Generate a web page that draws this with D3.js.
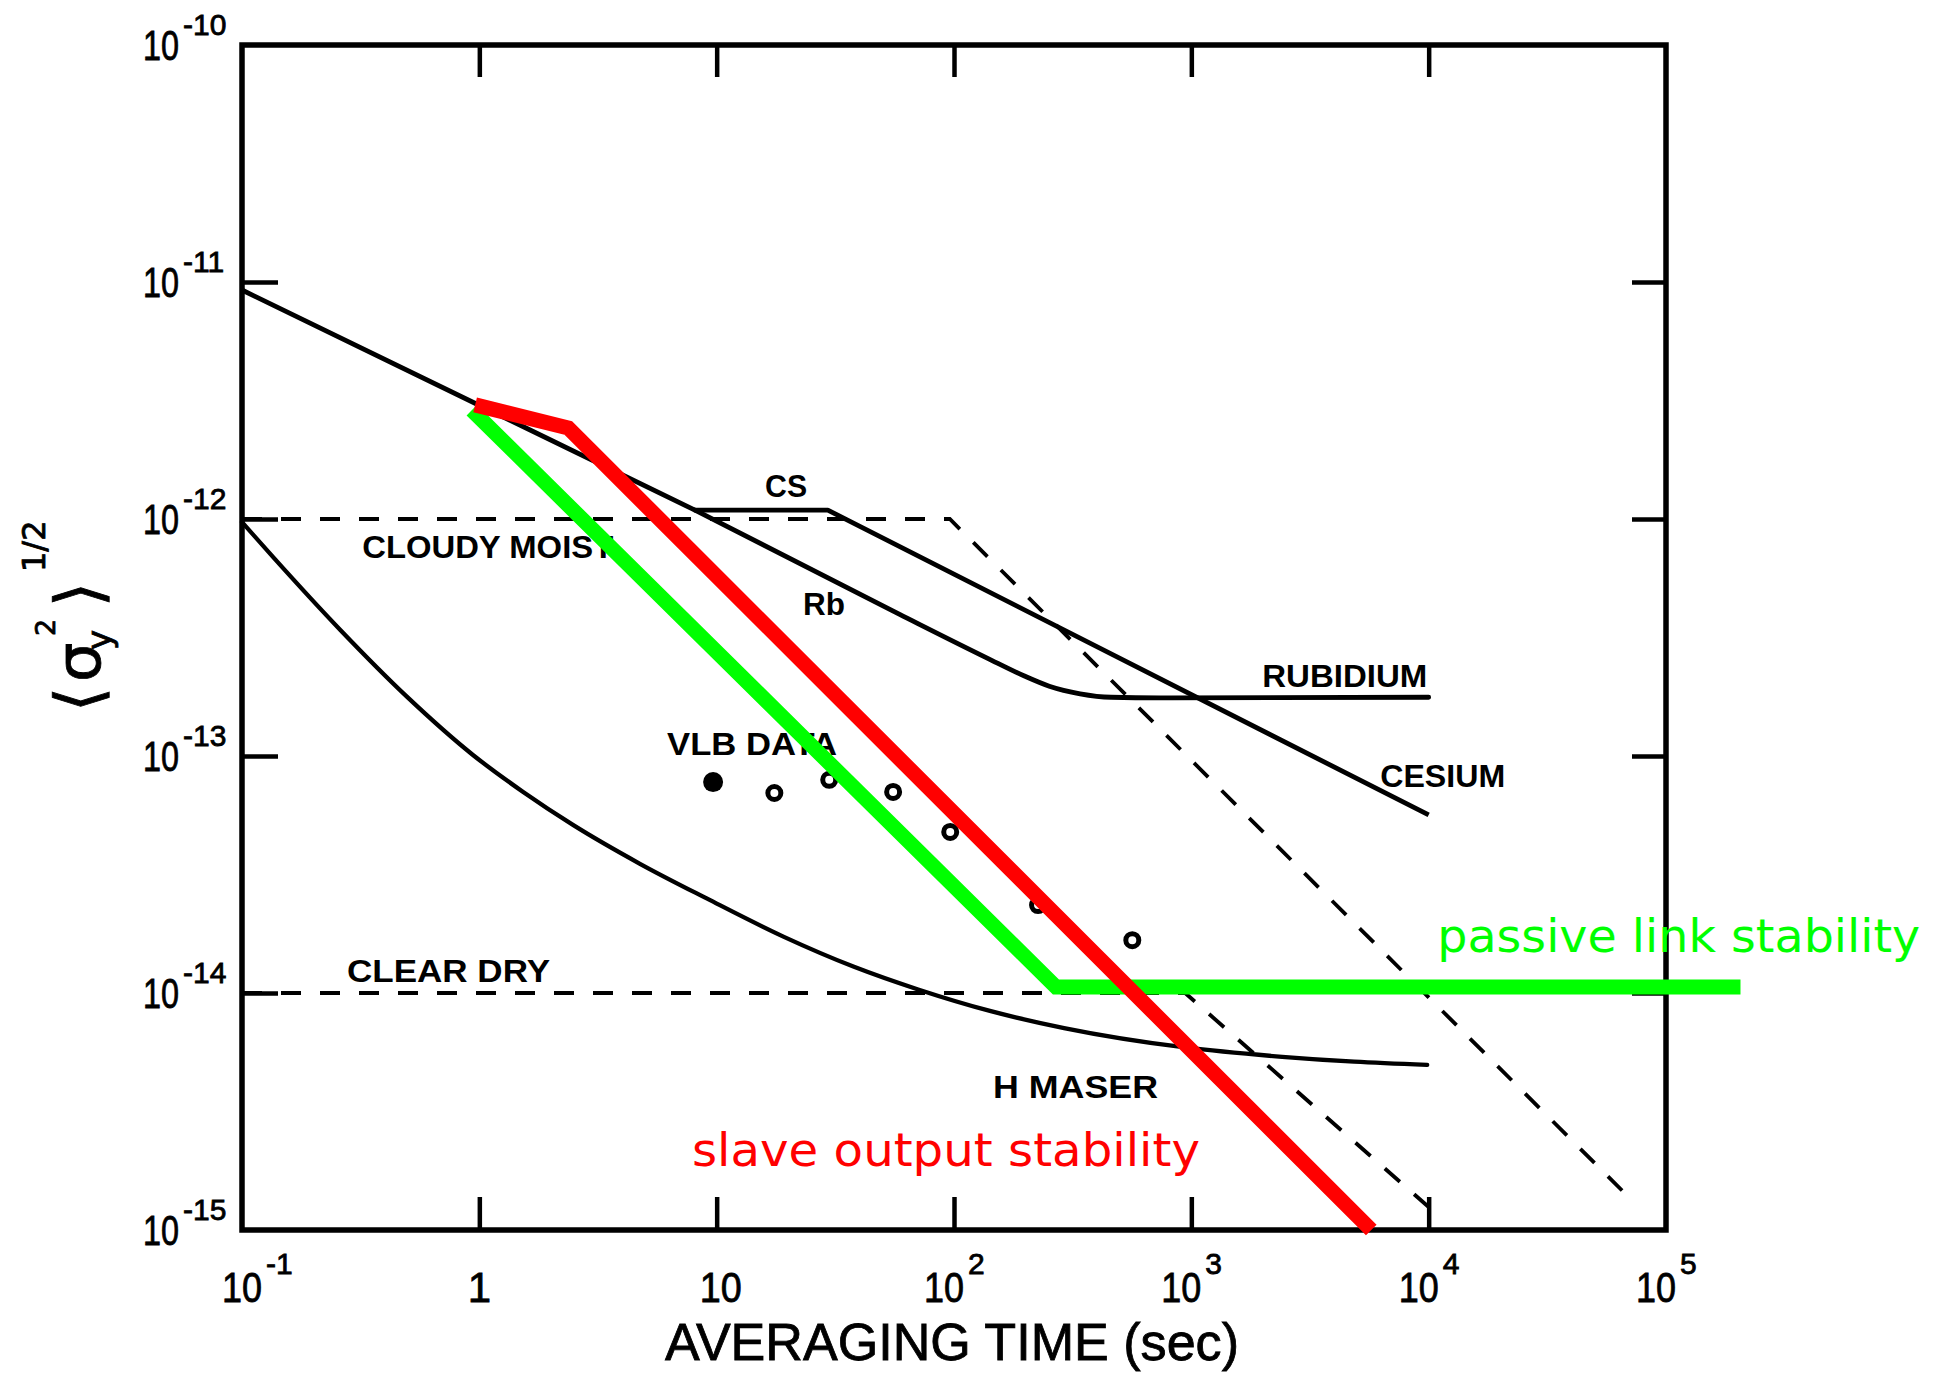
<!DOCTYPE html>
<html>
<head>
<meta charset="utf-8">
<script src="https://cdn.jsdelivr.net/npm/d3@7"></script>
<style>
  html, body { margin: 0; padding: 0; background: #fff; }
  svg { display: block; }
</style>
</head>
<body>
<svg id="chart" width="1935" height="1373"></svg>
<script>
// ---- Axis ticks ----------------------------------------------------------
const tauTicks = [1e-1, 1, 10, 1e2, 1e3, 1e4, 1e5];            // averaging time, s
const sigmaTicks = [1e-10, 1e-11, 1e-12, 1e-13, 1e-14, 1e-15];  // <sigma_y^2>^(1/2)

// ---- Series: [averaging time (s), stability] -----------------------------
// Cesium standard (shares the short-term branch with rubidium)
const cesium = [[0.1, 9.25e-12], [8.1, 1.09e-12], [29.4, 1.09e-12], [1.0e4, 5.64e-14]];
// Rubidium standard, leaving the shared branch and levelling into its floor
const rubidium = [[8.1, 1.09e-12], [59.3, 3.95e-13], [138, 2.59e-13], [197, 2.18e-13],
                  [252, 1.97e-13], [340, 1.83e-13], [459, 1.77e-13], [740, 1.76e-13], [1.0e4, 1.77e-13]];
// Hydrogen maser
const hMaser = [[0.1, 9.7e-13], [0.135, 6.92e-13], [0.259, 3.41e-13], [0.495, 1.78e-13],
                [0.94, 1.01e-13], [1.53, 7.05e-14], [2.48, 5.12e-14], [4.75, 3.51e-14],
                [9.12, 2.5e-14], [19.1, 1.73e-14], [37.9, 1.29e-14], [70.6, 1.035e-14],
                [143, 8.38e-15], [291, 7.11e-15], [942, 5.89e-15], [2415, 5.38e-15],
                [4853, 5.13e-15], [9860, 4.97e-15]];
// Atmospheric path limits
const cloudyMoist = [[0.1, 1.0e-12], [96, 1.0e-12], [7.1e4, 1.35e-15]];
const clearDry = [[0.1, 1.0e-14], [942, 1.0e-14], [1.0e4, 1.25e-15]];
// VLB measurements (first one filled, the rest open)
const vlbFilled = [[9.66, 7.76e-14]];
const vlbOpen = [[17.5, 6.98e-14], [29.8, 7.93e-14], [55.4, 7.05e-14], [96.4, 4.78e-14],
                 [226, 2.35e-14], [564, 1.67e-14]];
// Link overlays
const passiveLink = [[0.93, 2.88e-12], [269, 1.06e-14], [2.06e5, 1.06e-14]];
const slaveOutput = [[0.96, 3.03e-12], [2.37, 2.42e-12], [5730, 1.0e-15]];

// Curve labels anchored in data coordinates (left end of baseline)
const curveLabels = [
  { text: "CS", tau: 16.0, sigma: 1.24e-12 },
  { text: "CLOUDY MOIST", tau: 0.321, sigma: 6.84e-13 },
  { text: "Rb", tau: 23.1, sigma: 3.94e-13 },
  { text: "RUBIDIUM", tau: 1990, sigma: 1.95e-13 },
  { text: "CESIUM", tau: 6250, sigma: 7.4e-14 },
  { text: "VLB DATA", tau: 6.18, sigma: 1.01e-13 },
  { text: "CLEAR DRY", tau: 0.277, sigma: 1.11e-14 },
  { text: "H MASER", tau: 146, sigma: 3.6e-15 }
];
const overlayLabels = [
  { text: "passive link stability", tau: 10870, sigma: 1.49e-14, color: "#00ff00" },
  { text: "slave output stability", tau: 7.87, sigma: 1.86e-15, color: "#ff0000" }
];

// ---- Layout ---------------------------------------------------------------
const W = 1935, H = 1373;
const plot = { left: 242, right: 1666, top: 45, bottom: 1230 };
const labelWidth = { "CS": 42, "CLOUDY MOIST": 251, "Rb": 42, "RUBIDIUM": 165, "CESIUM": 125,
                     "VLB DATA": 170, "CLEAR DRY": 203, "H MASER": 165,
                     "passive link stability": 483, "slave output stability": 508 };
const sansFont = "'Liberation Sans', Arial, sans-serif";
const textFont = "'DejaVu Sans', sans-serif";

const x = d3.scaleLog().domain([1e-1, 1e5]).range([plot.left, plot.right]);
const y = d3.scaleLog().domain([1e-10, 1e-15]).range([plot.top, plot.bottom]);
const line = d3.line().x(d => x(d[0])).y(d => y(d[1]));
const smooth = d3.line().x(d => x(d[0])).y(d => y(d[1])).curve(d3.curveMonotoneX);

const svg = d3.select("#chart");
svg.append("rect").attr("width", W).attr("height", H).attr("fill", "#fff");

// ---- Frame and inward ticks -------------------------------------------------
svg.append("rect")
  .attr("x", plot.left).attr("y", plot.top)
  .attr("width", plot.right - plot.left).attr("height", plot.bottom - plot.top)
  .attr("fill", "none").attr("stroke", "#000").attr("stroke-width", 5.5);

const innerTau = tauTicks.slice(1, -1);
const innerSigma = sigmaTicks.slice(1, -1);
function tickStyle(g) {
  g.select(".domain").remove();
  g.selectAll(".tick text").remove();
  g.selectAll(".tick line").attr("stroke", "#000").attr("stroke-width", 4.5);
}
svg.append("g").attr("transform", `translate(0,${plot.bottom})`)
  .call(d3.axisBottom(x).tickValues(innerTau).tickSize(-33).tickSizeOuter(0).tickFormat(""))
  .call(tickStyle);
svg.append("g").attr("transform", `translate(0,${plot.top})`)
  .call(d3.axisTop(x).tickValues(innerTau).tickSize(-32).tickSizeOuter(0).tickFormat(""))
  .call(tickStyle);
svg.append("g").attr("transform", `translate(${plot.left},0)`)
  .call(d3.axisLeft(y).tickValues(innerSigma).tickSize(-36).tickSizeOuter(0).tickFormat(""))
  .call(tickStyle);
svg.append("g").attr("transform", `translate(${plot.right},0)`)
  .call(d3.axisRight(y).tickValues(innerSigma).tickSize(-34).tickSizeOuter(0).tickFormat(""))
  .call(tickStyle);

// ---- Tick labels (powers of ten) --------------------------------------------
const tickLabels = svg.append("g").attr("font-family", sansFont).attr("fill", "#000")
  .attr("stroke", "#000").attr("stroke-width", 0.8);
sigmaTicks.forEach(v => {
  const e = Math.round(Math.log10(v));
  const ty = y(v);
  tickLabels.append("text").attr("x", 143).attr("y", ty + 15)
    .attr("font-size", 42).attr("textLength", 36).attr("lengthAdjust", "spacingAndGlyphs")
    .text("10");
  tickLabels.append("text").attr("x", 183).attr("y", ty - 10)
    .attr("font-size", 30).text("-" + (-e));
});
tauTicks.forEach(v => {
  const e = Math.round(Math.log10(v));
  const tx = x(v);
  const base = 1302;
  if (e === 0) {
    tickLabels.append("text").attr("x", tx).attr("y", base).attr("text-anchor", "middle")
      .attr("font-size", 42).text("1");
  } else if (e === 1) {
    tickLabels.append("text").attr("x", tx - 17).attr("y", base)
      .attr("font-size", 42).attr("textLength", 42).attr("lengthAdjust", "spacingAndGlyphs")
      .text("10");
  } else {
    const x0 = tx - (e < 0 ? 20 : 30);
    tickLabels.append("text").attr("x", x0).attr("y", base)
      .attr("font-size", 42).attr("textLength", 40).attr("lengthAdjust", "spacingAndGlyphs")
      .text("10");
    tickLabels.append("text").attr("x", x0 + 44).attr("y", 1274)
      .attr("font-size", 30).text(e < 0 ? "-" + (-e) : String(e));
  }
});

// ---- Axis titles -------------------------------------------------------------
svg.append("text").attr("x", 665).attr("y", 1360)
  .attr("font-family", sansFont).attr("font-size", 52)
  .attr("stroke", "#000").attr("stroke-width", 0.8)
  .attr("textLength", 574).attr("lengthAdjust", "spacingAndGlyphs")
  .text("AVERAGING TIME (sec)");

const yTitle = svg.append("g").attr("font-family", textFont).attr("fill", "#000")
  .attr("stroke", "#000").attr("stroke-width", 0.8);
[
  { t: "\u27E8", px: 101, py: 712, size: 64 },
  { t: "\u03C3", px: 100, py: 682, size: 62 },
  { t: "y", px: 111, py: 650, size: 34 },
  { t: "2", px: 55, py: 636, size: 27 },
  { t: "\u27E9", px: 101, py: 607, size: 64 },
  { t: "1/2", px: 45, py: 572, size: 32 }
].forEach(p => {
  yTitle.append("text").attr("transform", `translate(${p.px},${p.py}) rotate(-90)`)
    .attr("font-size", p.size).text(p.t);
});

// ---- Atmospheric limits (dashed) ------------------------------------------------
[cloudyMoist, clearDry].forEach(s => {
  svg.append("path").attr("d", line(s)).attr("fill", "none")
    .attr("stroke", "#000").attr("stroke-width", 3.8).attr("stroke-dasharray", "20 19");
});

// ---- Frequency standards (solid) -------------------------------------------------
svg.append("path").attr("d", line(cesium)).attr("fill", "none")
  .attr("stroke", "#000").attr("stroke-width", 4.8).attr("stroke-linejoin", "round");
svg.append("path").attr("d", smooth(rubidium)).attr("fill", "none")
  .attr("stroke", "#000").attr("stroke-width", 4.8).attr("stroke-linecap", "round");
svg.append("path").attr("d", smooth(hMaser)).attr("fill", "none")
  .attr("stroke", "#000").attr("stroke-width", 4.3).attr("stroke-linecap", "round");

// ---- VLB data points ---------------------------------------------------------------
svg.selectAll("circle.vlb-filled").data(vlbFilled).join("circle")
  .attr("class", "vlb-filled").attr("cx", d => x(d[0])).attr("cy", d => y(d[1]))
  .attr("r", 10).attr("fill", "#000");
svg.selectAll("circle.vlb-open").data(vlbOpen).join("circle")
  .attr("class", "vlb-open").attr("cx", d => x(d[0])).attr("cy", d => y(d[1]))
  .attr("r", 6.5).attr("fill", "none").attr("stroke", "#000").attr("stroke-width", 5);

// ---- Curve labels --------------------------------------------------------------------
svg.append("g").attr("font-family", sansFont).attr("font-weight", "bold").attr("font-size", 32)
  .selectAll("text").data(curveLabels).join("text")
  .attr("x", d => x(d.tau)).attr("y", d => y(d.sigma))
  .attr("textLength", d => labelWidth[d.text]).attr("lengthAdjust", "spacingAndGlyphs")
  .text(d => d.text);

// ---- Link overlays ---------------------------------------------------------------------
svg.append("path").attr("d", line(passiveLink)).attr("fill", "none")
  .attr("stroke", "#00ff00").attr("stroke-width", 15)
  .attr("stroke-linejoin", "miter").attr("stroke-linecap", "butt");
svg.append("path").attr("d", line(slaveOutput)).attr("fill", "none")
  .attr("stroke", "#ff0000").attr("stroke-width", 15)
  .attr("stroke-linejoin", "miter").attr("stroke-linecap", "butt");

svg.append("g").attr("font-family", textFont).attr("font-size", 47)
  .selectAll("text").data(overlayLabels).join("text")
  .attr("x", d => x(d.tau)).attr("y", d => y(d.sigma)).attr("fill", d => d.color)
  .attr("textLength", d => labelWidth[d.text]).attr("lengthAdjust", "spacingAndGlyphs")
  .text(d => d.text);
</script>
</body>
</html>
